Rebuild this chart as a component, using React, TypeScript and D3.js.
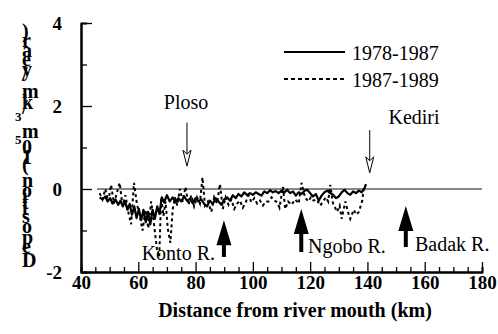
import React, { useEffect, useRef } from 'react';
import * as d3 from 'd3';

// river distance (km) and deposition (10^5 m3/km/year)
const kmSolid = [
  46.5, 47.5, 48.5, 49.3, 50.2, 51, 52, 53, 53.8, 54.6, 55.4, 56.2, 57, 57.8, 58.6, 59.4, 60.2, 61, 61.8, 62.6,
  63.4, 64.2, 65, 65.8, 66.6, 67.4, 68.2, 69, 70, 71, 72, 73, 74, 75, 76, 77, 78, 79, 80, 81, 82, 83, 84, 85, 86,
  87, 88, 89, 90, 91, 92, 93, 94, 95, 96, 97, 98, 99, 100, 101, 102, 103, 104, 105, 106, 107, 108, 109, 110, 111,
  112, 113, 114, 115, 116, 117, 118, 119, 120, 121, 122, 123, 124, 125, 126, 127, 128, 129, 130, 131, 132, 133,
  134, 135, 136, 137, 138, 139, 139.5,
];
const depSolid = [
  -0.2, -0.25, -0.18, -0.3, -0.22, -0.35, -0.25, -0.38, -0.28, -0.42, -0.3, -0.5, -0.36, -0.62, -0.42, -0.7, -0.48,
  -0.75, -0.5, -0.8, -0.55, -0.85, -0.5, -0.72, -0.42, -0.6, -0.2, -0.32, -0.15, -0.3, -0.2, -0.32, -0.22, -0.3,
  -0.18, -0.28, -0.24, -0.34, -0.22, -0.3, -0.25, -0.36, -0.42, -0.28, -0.36, -0.22, -0.3, -0.38, -0.25, -0.2,
  -0.28, -0.15, -0.22, -0.12, -0.18, -0.08, -0.15, -0.1, -0.14, -0.08, -0.12, -0.16, -0.06, -0.1, -0.03, -0.08,
  -0.05, -0.1, -0.04, -0.08, -0.02, -0.1, -0.06, -0.16, -0.08, -0.12, -0.04, -0.02, -0.1, -0.18, -0.12, -0.28,
  -0.16, -0.08, -0.04, -0.1, -0.14, -0.22, -0.18, -0.08, -0.02, -0.1, -0.14, -0.06, -0.1, -0.04, -0.08, 0.02, 0.12,
];

const kmDashed = [
  46.5, 47.5, 48.5, 49.5, 50.5, 51.5, 52.5, 53.5, 54.5, 55.5, 56.5, 57.5, 58.5, 59.5, 60.5, 61.5, 62.5, 63.5, 64.5,
  65.5, 66.5, 67.3, 68, 68.8, 69.5, 70.3, 71.2, 72, 72.8, 73.6, 74.5, 75.5, 76.5, 77.5, 78.5, 79.5, 80.5, 81.5,
  82.4, 83.3, 84.3, 85.5, 86.5, 87.5, 88.5, 89.5, 90.5, 91.5, 92.5, 93.5, 94.5, 95.5, 96.5, 97.5, 98.5, 99.5,
  100.5, 101.5, 102.5, 103.5, 104.5, 105.5, 106.5, 107.5, 108.5, 109.3, 110.5, 111.3, 112.3, 113.5, 114.8, 116,
  117, 118.2, 119.3, 120.3, 121.2, 122.3, 123.5, 124.5, 125.5, 126.3, 127, 128, 129.4, 130.3, 131, 132.3, 133.2,
  134, 135.2, 136.2, 137, 138.2, 138.8,
];
const depDashed = [
  -0.1, -0.25, 0.0, -0.3, 0.1, -0.35, -0.1, 0.15, -0.4, -0.15, -0.55, -0.85, 0.15, -0.35, -0.65, -1.0, -0.5, -0.95,
  -0.3, -0.85, -1.45, -1.65, -0.2, -0.65, -0.3, -0.95, -1.3, -0.5, -0.2, -0.4, 0.0, -0.3, 0.05, -0.38, -0.15, -0.42,
  -0.2, -0.35, 0.28, -0.4, -0.3, -0.55, -0.2, -0.35, 0.12, -0.48, -0.2, -0.38, -0.25, -0.48, -0.35, -0.28, -0.45,
  -0.32, -0.15, -0.32, -0.22, -0.35, -0.28, -0.4, -0.3, -0.3, -0.2, -0.28, -0.32, -0.45, 0.05, -0.48, -0.3, -0.38,
  -0.25, -0.35, 0.15, -0.2, -0.3, -0.2, -0.28, -0.25, -0.4, -0.3, -0.2, -0.3, 0.1, -0.35, -0.55, -0.4, -0.72, -0.3,
  -0.55, -0.72, -0.5, -0.62, -0.55, -0.28, 0.05,
];

const xTicks = [40, 60, 80, 100, 120, 140, 160, 180];
const yTicks = [-2, 0, 2, 4];
const periods = ['1978-1987', '1987-1989'];
const towns = ['Ploso', 'Kediri'];
const townKm = [77, 140.8];
const rivers = ['Konto R.', 'Ngobo R.', 'Badak R.'];
const riverKm = [89.9, 116.9, 153.4];

const serif = '"Liberation Serif", "Times New Roman", serif';

const App = () => {
  const svgRef = useRef(null);

  useEffect(() => {
    const width = 498,
      height = 334;
    const svg = d3.select(svgRef.current).attr('width', width).attr('height', height);
    svg.selectAll('*').remove();

    const x = d3.scaleLinear().domain([40, 180]).range([81, 482]);
    const y = d3.scaleLinear().domain([-2, 4]).range([272, 23]);

    // y axis: minor ticks then labelled majors
    const yMinor = svg.append('g').attr('transform', `translate(${x(40)},0)`);
    yMinor.call(d3.axisLeft(y).tickValues([-1, 1, 3]).tickSize(-6).tickFormat(() => ''));
    const yAxis = svg.append('g').attr('transform', `translate(${x(40)},0)`);
    yAxis.call(
      d3
        .axisLeft(y)
        .tickValues(yTicks)
        .tickSizeInner(-11)
        .tickSizeOuter(0)
        .tickPadding(19)
        .tickFormat((d) => String(d))
    );

    const xMinor = svg.append('g').attr('transform', `translate(0,${y(-2)})`);
    xMinor.call(
      d3
        .axisBottom(x)
        .tickValues(d3.range(45, 180, 5).filter((v) => v % 20 !== 0))
        .tickSize(-5)
        .tickFormat(() => '')
    );
    const xAxis = svg.append('g').attr('transform', `translate(0,${y(-2)})`);
    xAxis.call(
      d3
        .axisBottom(x)
        .tickValues(xTicks)
        .tickSizeInner(-10)
        .tickSizeOuter(0)
        .tickPadding(3)
        .tickFormat((d) => String(d))
    );

    [yMinor, yAxis, xMinor, xAxis].forEach((g) => g.attr('font-family', serif).attr('font-size', 19));
    svg.selectAll('.domain').attr('stroke', '#000').attr('stroke-width', 2);
    svg.selectAll('.tick line').attr('stroke', '#000').attr('stroke-width', 1.3);
    svg.selectAll('.tick text')
      .style('font-family', serif)
      .style('font-weight', 'bold')
      .style('font-size', '19px')
      .attr('fill', '#000');
    yAxis.selectAll('.tick text').attr('dy', '0.34em');

    // zero line
    svg.append('line')
      .attr('x1', x(45.6))
      .attr('x2', x(180))
      .attr('y1', y(0))
      .attr('y2', y(0))
      .attr('stroke', '#111')
      .attr('stroke-width', 1);

    const line = d3
      .line()
      .x((d) => x(d[0]))
      .y((d) => y(d[1]));

    svg.append('path')
      .datum(kmDashed.map((k, i) => [k, depDashed[i]]))
      .attr('d', line)
      .attr('fill', 'none')
      .attr('stroke', '#000')
      .attr('stroke-width', 2)
      .attr('stroke-dasharray', '3,3');

    svg.append('path')
      .datum(kmSolid.map((k, i) => [k, depSolid[i]]))
      .attr('d', line)
      .attr('fill', 'none')
      .attr('stroke', '#000')
      .attr('stroke-width', 2.2)
      .attr('stroke-linejoin', 'round');

    // legend
    const legend = svg.append('g');
    periods.forEach((p, i) => {
      const ly = 52 + i * 27;
      legend.append('line')
        .attr('x1', 284)
        .attr('x2', 345)
        .attr('y1', ly)
        .attr('y2', ly)
        .attr('stroke', '#000')
        .attr('stroke-width', 2)
        .attr('stroke-dasharray', i === 0 ? null : '4,3');
      legend.append('text')
        .attr('x', 352)
        .attr('y', ly + 8)
        .attr('font-family', serif)
        .attr('font-size', 20)
        .text(p);
    });

    // town markers: hollow arrows pointing down
    const townTop = [1.6, 1.42];
    const townTip = [0.55, 0.39];
    const townLabel = [[186, 109], [414, 124]];
    towns.forEach((t, i) => {
      const cx = x(townKm[i]);
      const tip = y(townTip[i]);
      const headTop = tip - 16;
      svg.append('line')
        .attr('x1', cx)
        .attr('x2', cx)
        .attr('y1', y(townTop[i]))
        .attr('y2', headTop + 4)
        .attr('stroke', '#000')
        .attr('stroke-width', 1);
      svg.append('path')
        .attr('d', `M${cx - 4},${headTop} L${cx},${headTop + 4} L${cx + 4},${headTop} L${cx},${tip} Z`)
        .attr('fill', '#fff')
        .attr('stroke', '#000')
        .attr('stroke-width', 1);
      svg.append('text')
        .attr('x', townLabel[i][0])
        .attr('y', townLabel[i][1])
        .attr('text-anchor', 'middle')
        .attr('font-family', serif)
        .attr('font-size', 20)
        .text(t);
    });

    // tributary confluences: solid arrows pointing up
    const riverTip = [-0.75, -0.48, -0.41];
    const riverBase = [-1.64, -1.52, -1.4];
    const riverLabel = [
      [215, 260, 'end'],
      [308, 253, 'start'],
      [415, 251, 'start'],
    ];
    rivers.forEach((r, i) => {
      const cx = x(riverKm[i]);
      const tip = y(riverTip[i]);
      const base = y(riverBase[i]);
      const headBase = tip + 25;
      svg.append('path')
        .attr(
          'd',
          `M${cx},${tip} L${cx + 7.5},${headBase} L${cx + 2},${headBase} L${cx + 2},${base} L${cx - 2},${base} L${cx - 2},${headBase} L${cx - 7.5},${headBase} Z`
        )
        .attr('fill', '#000');
      svg.append('text')
        .attr('x', riverLabel[i][0])
        .attr('y', riverLabel[i][1])
        .attr('text-anchor', riverLabel[i][2])
        .attr('font-family', serif)
        .attr('font-size', 20)
        .text(r);
    });

    // x title
    svg.append('text')
      .attr('x', 295)
      .attr('y', 317)
      .attr('text-anchor', 'middle')
      .attr('font-family', serif)
      .attr('font-weight', 'bold')
      .attr('font-size', 20)
      .text('Distance from river mouth (km)');

    // y title: rotated run, each glyph kept upright
    const yTitle = svg.append('text')
      .attr('transform', 'translate(22,267) rotate(-90)')
      .attr('rotate', '90')
      .attr('font-family', serif)
      .attr('font-weight', 'bold')
      .attr('font-size', 20);
    yTitle.append('tspan').text('Deposition (10');
    yTitle.append('tspan').attr('dy', -7).attr('font-size', 13).text('5');
    yTitle.append('tspan').attr('dy', 7).text('m');
    yTitle.append('tspan').attr('dy', -7).attr('font-size', 13).text('3');
    yTitle.append('tspan').attr('dy', 7).text('/km/year)');
  }, []);

  return <svg ref={svgRef} style={{ position: 'absolute', left: 0, top: 0, background: '#fff' }}></svg>;
};

export default App;
